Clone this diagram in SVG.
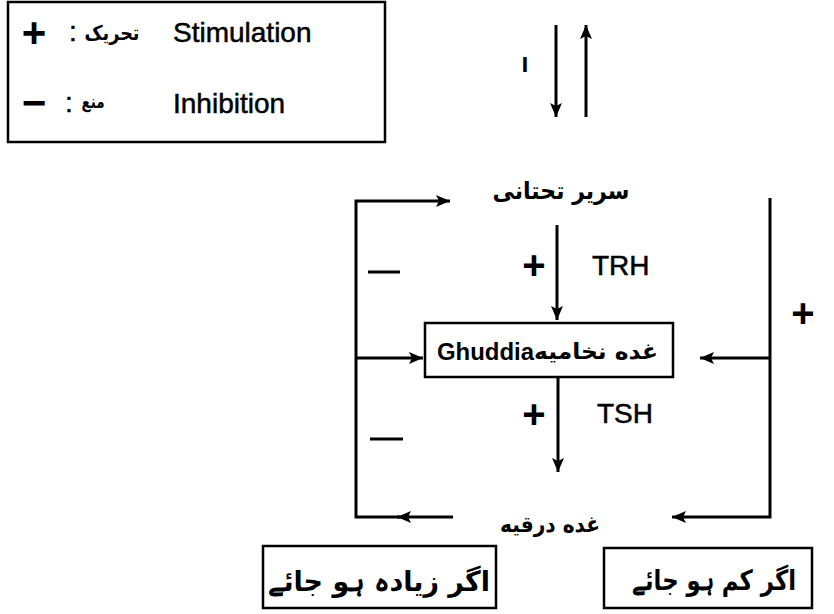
<svg xmlns="http://www.w3.org/2000/svg" width="834" height="614" viewBox="0 0 834 614">
<style>
.ln{fill:none;stroke:#000;stroke-width:3}
.box{fill:#fff;stroke:#000;stroke-width:2.5}
.en{font-family:"Liberation Sans",Arial,sans-serif;font-size:28px;fill:#000;stroke:#000;stroke-width:0.5}
.ur{font-family:"DejaVu Sans","Noto Sans",sans-serif;font-weight:bold;fill:#000}
.sg{font-family:"Liberation Sans",Arial,sans-serif;font-weight:bold;fill:#000;text-anchor:middle}
</style>
<defs>
<marker id="ah" viewBox="0 0 14 12" refX="14" refY="6" markerWidth="14" markerHeight="12" orient="auto" markerUnits="userSpaceOnUse">
<path d="M0,0 L14,6 L0,12 L3,6 z" fill="#000"/>
</marker>
</defs>
<rect width="834" height="614" fill="#fff"/>

<g id="legend">
<rect x="8" y="2" width="377" height="140" class="box"/>
<text x="34" y="47" class="sg" font-size="42">+</text>
<text x="73" y="41" class="en" text-anchor="middle">:</text>
<text x="112" y="40" class="ur" font-size="20" text-anchor="middle" textLength="55" lengthAdjust="spacingAndGlyphs">تحریک</text>
<text x="173" y="42" class="en">Stimulation</text>
<text x="34" y="117" class="sg" font-size="42">−</text>
<text x="69" y="112" class="en" text-anchor="middle">:</text>
<text x="93" y="108" class="ur" font-size="18" text-anchor="middle" textLength="23" lengthAdjust="spacingAndGlyphs">منع</text>
<text x="173" y="113" class="en">Inhibition</text>
</g>

<g id="mark">
<text x="525" y="72" class="ur" font-size="20" text-anchor="middle">ا</text>
</g>

<g id="hypothalamus">
<text x="561" y="199" class="ur" font-size="24" text-anchor="middle" textLength="137" lengthAdjust="spacingAndGlyphs">سریر تحتانی</text>
</g>

<g id="pituitary">
<rect x="425" y="323" width="248" height="54" class="box"/>
<text x="437" y="360" font-family="Liberation Sans,Arial,sans-serif" font-weight="bold" font-size="24" textLength="97" lengthAdjust="spacingAndGlyphs">Ghuddia</text>
<text x="596" y="359" class="ur" font-size="22" text-anchor="middle" textLength="124" lengthAdjust="spacingAndGlyphs">غده نخامیه</text>
</g>

<g id="thyroid">
<text x="550" y="532" class="ur" font-size="22" text-anchor="middle" textLength="100" lengthAdjust="spacingAndGlyphs">غده درقیه</text>
</g>

<g id="excess">
<rect x="263" y="546" width="233" height="62" class="box"/>
<text x="379" y="591" class="ur" font-size="28" text-anchor="middle" textLength="222" lengthAdjust="spacingAndGlyphs">اگر زیادہ ہو جائے</text>
</g>

<g id="deficit">
<rect x="604" y="548" width="208" height="60" class="box"/>
<text x="714" y="590" class="ur" font-size="28" text-anchor="middle" textLength="164" lengthAdjust="spacingAndGlyphs">اگر کم ہو جائے</text>
</g>

<g id="connectors">
<path d="M556,25 L556,117" class="ln" marker-end="url(#ah)"/>
<path d="M586,117 L586,25" class="ln" marker-end="url(#ah)"/>
<path d="M557,225 L557,320" class="ln" marker-end="url(#ah)"/>
<path d="M558,377 L558,472" class="ln" marker-end="url(#ah)"/>
<path d="M453,517 L397,517" class="ln" marker-end="url(#ah)"/>
<path d="M400,517 L356,517 L356,201 L450,201" class="ln" marker-end="url(#ah)"/>
<path d="M356,358 L423,358" class="ln" marker-end="url(#ah)"/>
<path d="M770,198 L770,517 L672,517" class="ln" marker-end="url(#ah)"/>
<path d="M770,358 L700,358" class="ln" marker-end="url(#ah)"/>
</g>

<g id="labels">
<text x="534" y="279" class="sg" font-size="40">+</text>
<text x="592" y="275" class="en">TRH</text>
<text x="534" y="428" class="sg" font-size="40">+</text>
<text x="597" y="423" class="en">TSH</text>
<text x="803" y="327" class="sg" font-size="40">+</text>
<path d="M368,272 L400,272 M370,439 L403,439" class="ln" stroke-width="2.5"/>
</g>
</svg>
